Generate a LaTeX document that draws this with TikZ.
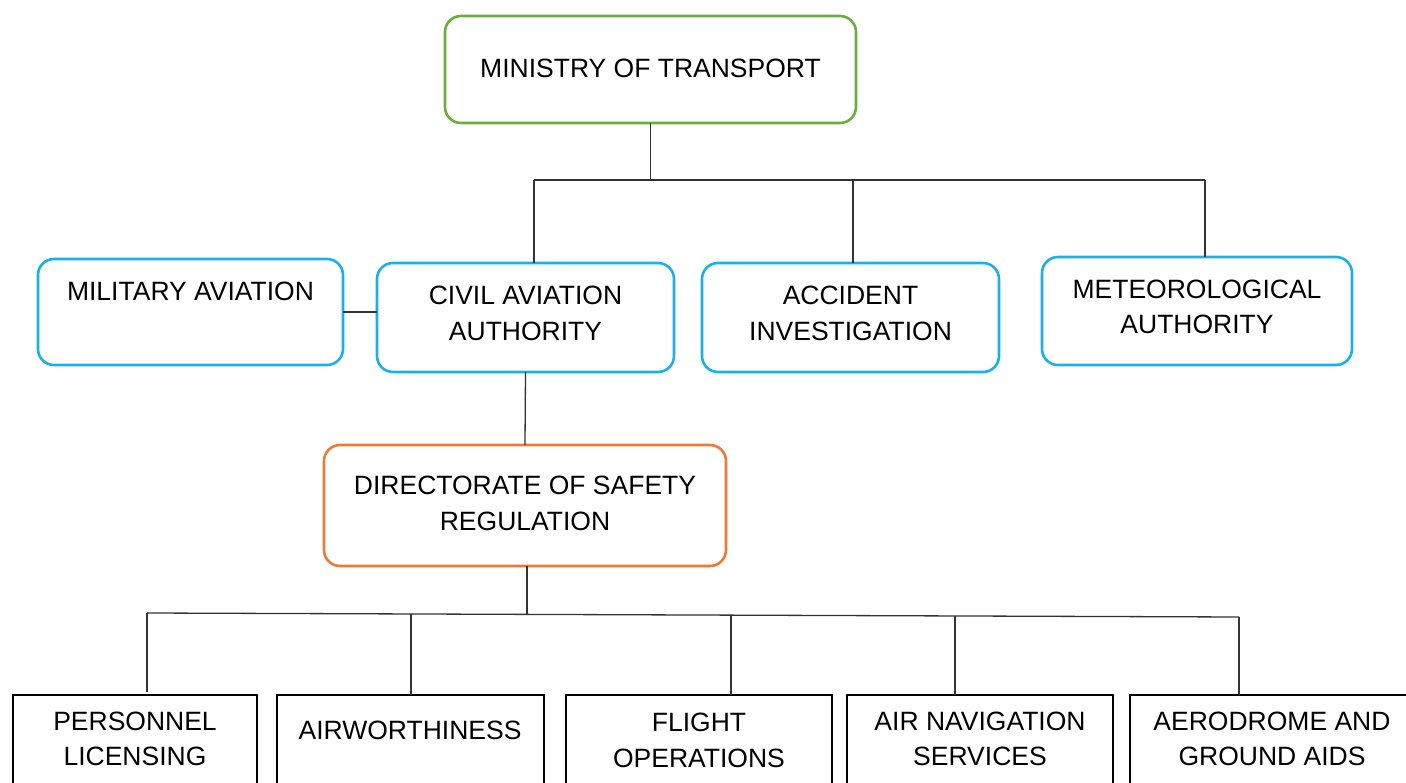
\documentclass[tikz,border=0pt]{standalone}
\usepackage{fontspec}
\setmainfont{Liberation Sans}
\definecolor{mgreen}{HTML}{6AAE3F}
\definecolor{mblue}{HTML}{1BB0EA}
\definecolor{morange}{HTML}{EC7A3A}
\definecolor{conncol}{HTML}{333333}
\tikzset{
  box/.style={draw, line width=2.6pt, inner sep=0pt, outer sep=0pt, fill=white},
  rbox/.style={box, rounded corners=16pt},
  sqbox/.style={box, draw=black},
  lbl/.style={inner sep=0pt, align=center, font=\fontsize{26.5}{35.5}\selectfont},
  conn/.style={draw=conncol, line width=1.3pt}
}
\begin{document}
\begin{tikzpicture}[x=1pt,y=-1pt]
\useasboundingbox (0,0) rectangle (1406,783);
% boxes
\node[rbox, draw=mgreen, minimum width=411pt, minimum height=107pt] (min) at (650.5,69.5) {};
\node[rbox, draw=mblue, minimum width=305pt, minimum height=106pt] (mil) at (190.5,312) {};
\node[rbox, draw=mblue, minimum width=297pt, minimum height=109pt] (caa) at (525.5,317.5) {};
\node[rbox, draw=mblue, minimum width=297pt, minimum height=109pt] (acc) at (850.5,317.5) {};
\node[rbox, draw=mblue, minimum width=310pt, minimum height=108pt] (met) at (1197,311) {};
\node[rbox, draw=morange, minimum width=402pt, minimum height=121pt] (dsr) at (525,505.5) {};
\node[sqbox, minimum width=244pt, minimum height=135pt] (pl) at (135,762.5) {};
\node[sqbox, minimum width=267pt, minimum height=135pt] (aw) at (410.5,762.5) {};
\node[sqbox, minimum width=266pt, minimum height=135pt] (fo) at (699,762.5) {};
\node[sqbox, minimum width=266pt, minimum height=135pt] (ans) at (980,762.5) {};
\node[sqbox, minimum width=290pt, minimum height=135pt] (agd) at (1275,762.5) {};
% labels
\node[lbl] (tmin) at (650.5,68) {MINISTRY OF TRANSPORT};
\node[lbl] (tmil) at (190.5,291) {MILITARY AVIATION};
\node[lbl] (tcaa) at (525.5,313.5) {CIVIL AVIATION\\AUTHORITY};
\node[lbl] (tacc) at (850.5,313.5) {ACCIDENT\\INVESTIGATION};
\node[lbl] (tmet) at (1197,307) {METEOROLOGICAL\\AUTHORITY};
\node[lbl] (tdsr) at (525,503.5) {DIRECTORATE OF SAFETY\\REGULATION};
\node[lbl] (tpl) at (135,739) {PERSONNEL\\LICENSING};
\node[lbl] (taw) at (410,730) {AIRWORTHINESS};
\node[lbl] (tfo) at (699,740.5) {FLIGHT\\OPERATIONS};
\node[lbl] (tans) at (980,739) {AIR NAVIGATION\\SERVICES};
\node[lbl] (tagd) at (1272,739) {AERODROME AND\\GROUND AIDS};
% top connectors
\coordinate (t0) at (650.5,180);
\coordinate (tl) at (534,180);
\coordinate (ta) at (853,180);
\coordinate (tr) at (1205,180);
\draw[conn] (min.south) -- (t0);
\draw[conn] (tl) -- (tr);
\draw[conn] (tl) -- (tl |- caa.north);
\draw[conn] (ta) -- (ta |- acc.north);
\draw[conn] (tr) -- (tr |- met.north);
\draw[conn] (mil.east) -- (mil.east -| caa.west);
\draw[conn] (caa.south) -- (dsr.north);
% bottom connectors
\coordinate (b0) at (527,614.4);
\coordinate (b1) at (147,613);
\coordinate (b2) at (411,614);
\coordinate (b3) at (731,615.1);
\coordinate (b4) at (955,616);
\coordinate (b5) at (1239,617);
\draw[conn] (dsr.south -| b0) -- (b0);
\draw[conn] (b1) -- (b5);
\draw[conn, shorten >=3pt] (b1) -- (b1 |- pl.north);
\draw[conn] (b2) -- (b2 |- aw.north);
\draw[conn] (b3) -- (b3 |- fo.north);
\draw[conn] (b4) -- (b4 |- ans.north);
\draw[conn] (b5) -- (b5 |- agd.north);
\end{tikzpicture}
\end{document}
